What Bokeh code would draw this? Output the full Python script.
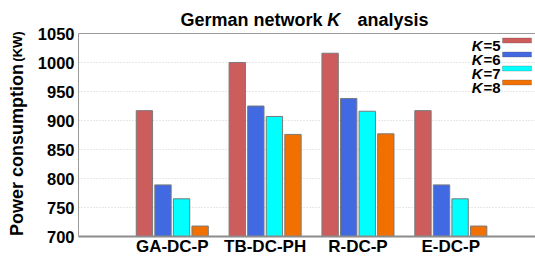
from bokeh.plotting import figure
from bokeh.models import (FixedTicker, Label, BoxAnnotation, LinearAxis, ColumnDataSource)
from bokeh.embed import file_html
from bokeh.resources import INLINE

# ---- data ----
categories = ["GA-DC-P", "TB-DC-PH", "R-DC-P", "E-DC-P"]
series_names = ["5", "6", "7", "8"]
k5 = [917, 1000, 1016, 917]
k6 = [789, 925, 938, 789]
k7 = [765, 907, 916, 765]
k8 = [718, 876, 877, 718]
y_ticks = [700, 750, 800, 850, 900, 950, 1000, 1050]

colors = ["#CD5C5C", "#4169E1", "#00FFFF", "#F27000"]
offsets = [-0.3, -0.1, 0.1, 0.3]
FONT = "Liberation Sans, Arial, sans-serif"
NB = "\u00a0"

p = figure(width=535, height=258, output_backend="svg", toolbar_location=None,
           x_range=(-0.01, 4.912), y_range=(700, 1050),
           min_border_left=78, min_border_right=0, min_border_top=33, min_border_bottom=20)
p.outline_line_color = None
p.background_fill_color = "white"

xs = list(range(1, len(categories) + 1))
for vals, col, off in zip([k5, k6, k7, k8], colors, offsets):
    src = ColumnDataSource(dict(x=[x + off for x in xs], top=vals, bottom=[y_ticks[0]] * len(vals)))
    p.vbar(x="x", top="top", bottom="bottom", width=0.176, source=src,
           fill_color=col, line_color="#7a7a7a", line_width=1)

# ---- x axis ----
p.xaxis.ticker = FixedTicker(ticks=xs)
p.xaxis.major_label_overrides = {x: c for x, c in zip(xs, categories)}
p.xaxis.major_label_text_font = FONT
p.xaxis.major_label_text_font_style = "bold"
p.xaxis.major_label_text_font_size = "17px"
p.xaxis.major_label_text_color = "black"
p.xaxis.major_tick_line_color = None
p.xaxis.major_tick_out = 0
p.xaxis.major_tick_in = 0
p.xaxis.minor_tick_line_color = None
p.xaxis.minor_tick_out = 0
p.xaxis.axis_line_color = "#8c8c8c"
p.xaxis.axis_line_width = 2
p.xaxis.major_label_standoff = 0

# ---- y axis (with title) ----
p.yaxis.ticker = FixedTicker(ticks=y_ticks)
p.yaxis.major_label_text_font = FONT
p.yaxis.major_label_text_font_style = "bold"
p.yaxis.major_label_text_font_size = "16.5px"
p.yaxis.major_label_text_color = "black"
p.yaxis.major_tick_line_color = None
p.yaxis.major_tick_out = 0
p.yaxis.major_tick_in = 0
p.yaxis.minor_tick_line_color = None
p.yaxis.minor_tick_out = 0
p.yaxis.axis_line_color = "#9a9a9a"
p.yaxis.major_label_standoff = 4
p.yaxis.axis_label = "Power consumption" + NB * 6
p.yaxis.axis_label_text_font = FONT
p.yaxis.axis_label_text_font_style = "bold"
p.yaxis.axis_label_text_font_size = "18px"
p.yaxis.axis_label_text_color = "black"
p.yaxis.axis_label_standoff = 8

unit_axis = LinearAxis(axis_line_color=None, major_tick_line_color=None,
                       minor_tick_line_color=None, major_tick_out=0, major_tick_in=0,
                       minor_tick_out=0, major_label_standoff=0,
                       major_label_text_font_size="0px",
                       axis_label=NB * 49 + "(KW)", axis_label_text_font=FONT,
                       axis_label_text_font_style="bold", axis_label_text_font_size="13px",
                       axis_label_text_color="black", axis_label_standoff=-21)
unit_axis.ticker = FixedTicker(ticks=[])
p.add_layout(unit_axis, "left")

# ---- top border + title ----
K_POS = 2.74
top_axis = LinearAxis(axis_line_color="#9a9a9a", major_tick_line_color=None,
                      minor_tick_line_color=None, major_tick_out=0, major_tick_in=0,
                      minor_tick_out=0, major_label_standoff=4,
                      major_label_text_font=FONT, major_label_text_font_size="18px",
                      major_label_text_font_style="bold italic", major_label_text_color="black",
                      axis_label="German network" + NB * 7 + "analysis" + NB,
                      axis_label_text_font=FONT, axis_label_text_font_style="bold",
                      axis_label_text_font_size="18px", axis_label_text_color="black",
                      axis_label_standoff=-23)
top_axis.ticker = FixedTicker(ticks=[K_POS])
top_axis.major_label_overrides = {K_POS: "K"}
p.add_layout(top_axis, "above")

p.xgrid.grid_line_color = None
p.ygrid.grid_line_color = "#cfcfcf"
p.ygrid.grid_line_dash = "1 2"
p.ygrid.ticker = FixedTicker(ticks=y_ticks)

# ---- legend (inside the frame; screen units from frame left / bottom) ----
FL, FB = 78, 237


def lab(text, px, py, size, italic=False, align="left"):
    p.add_layout(Label(x=px - FL, y=FB - py, x_units="screen", y_units="screen", text=text,
                       text_font=FONT, text_font_size=size,
                       text_font_style="bold italic" if italic else "bold",
                       text_color="black", text_align=align, text_baseline="alphabetic"))


for i, (name, col) in enumerate(zip(series_names, colors)):
    cy = 41 + 14 * i
    lab("=" + name, 500, cy + 5, "15px", align="right")
    lab("K", 482, cy + 5, "15px", italic=True, align="right")
    p.add_layout(BoxAnnotation(left=502 - FL, right=531 - FL, bottom=FB - (cy + 2.5), top=FB - (cy - 2.5),
                               left_units="screen", right_units="screen",
                               top_units="screen", bottom_units="screen",
                               fill_color=col, fill_alpha=1.0, line_color="#555555", line_width=1,
                               level="overlay"))

open("out.html", "w").write(file_html(p, INLINE))
